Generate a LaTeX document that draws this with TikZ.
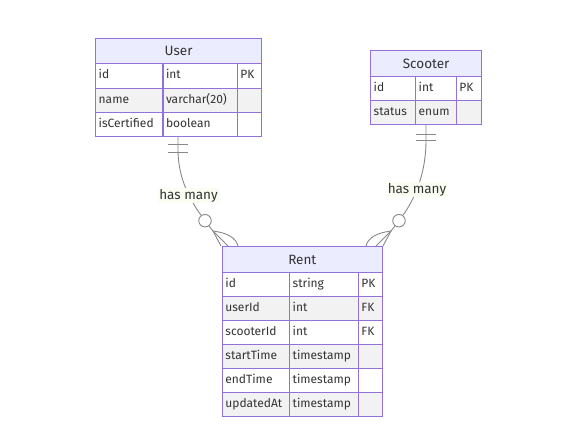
\documentclass[tikz,border=0pt]{standalone}
\usepackage{fontspec}
\setmainfont{Fira Sans}
\definecolor{erborder}{HTML}{9370DB}
\definecolor{erhead}{HTML}{ECECFF}
\definecolor{erodd}{HTML}{FFFFFF}
\definecolor{ereven}{HTML}{F2F2F2}
\definecolor{ertext}{HTML}{333333}
\definecolor{erline}{HTML}{888888}
\definecolor{erlbl}{HTML}{FAFDF2}
\tikzset{
  cellbox/.style={draw=erborder, line width=1.2pt, rectangle, inner sep=0pt, anchor=north west, text=ertext},
  headbox/.style={cellbox, fill=erhead, font=\fontsize{13.5}{15}\selectfont},
  celltext/.style={anchor=west, text=ertext, inner sep=0pt, font=\fontsize{12}{14}\selectfont},
  relline/.style={draw=erline, line width=0.9pt},
  lbl/.style={fill=erlbl, text=ertext, inner sep=1pt, font=\fontsize{13.5}{15}\selectfont},
  ringmark/.style={circle, draw=erline, line width=0.9pt, fill=white, minimum size=12.5pt, inner sep=0pt}
}
% \ercell{name}{x1}{y1}{x2}{y2}{fill}{text}
\newcommand\ercell[7]{%
  \node[cellbox, fill=#6, minimum width={(#4-#2)*1pt}, minimum height={(#5-#3)*1pt}] (#1) at (#2,#3) {};
  \node[celltext] (#1t) at ([xshift=3.5pt]#1.west) {\strut #7};}
\newcommand\erhead[6]{%
  \node[headbox, minimum width={(#4-#2)*1pt}, minimum height={(#5-#3)*1pt}] (#1) at (#2,#3) {#6};}
\begin{document}
\begin{tikzpicture}[x=1pt,y=-1pt]
\useasboundingbox (0,0) rectangle (586,435);
% ---------- User ----------
\erhead{uh}{95}{38}{261}{63}{User}
\ercell{ua1}{95}{63}{162.3}{87.7}{erodd}{id}
\ercell{ua2}{162.3}{63}{236.7}{87.7}{erodd}{int}
\ercell{ua3}{236.7}{63}{261}{87.7}{erodd}{PK}
\ercell{ub1}{95}{87.7}{162.3}{111.7}{ereven}{name}
\ercell{ub2}{162.3}{87.7}{236.7}{111.7}{ereven}{varchar(20)}
\ercell{ub3}{236.7}{87.7}{261}{111.7}{ereven}{}
\ercell{uc1}{95}{111.7}{162.3}{136}{erodd}{isCertified}
\ercell{uc2}{162.3}{111.7}{236.7}{136}{erodd}{boolean}
\ercell{uc3}{236.7}{111.7}{261}{136}{erodd}{}
% ---------- Scooter ----------
\erhead{sh}{370}{50}{481}{75.7}{Scooter}
\ercell{sa1}{370}{75.7}{415}{100}{erodd}{id}
\ercell{sa2}{415}{75.7}{455.7}{100}{erodd}{int}
\ercell{sa3}{455.7}{75.7}{481}{100}{erodd}{PK}
\ercell{sb1}{370}{100}{415}{124}{ereven}{status}
\ercell{sb2}{415}{100}{455.7}{124}{ereven}{enum}
\ercell{sb3}{455.7}{100}{481}{124}{ereven}{}
% ---------- Rent ----------
\erhead{rh}{221.7}{246}{381.7}{271.7}{Rent}
\ercell{ra1}{221.7}{271.7}{289}{296}{erodd}{id}
\ercell{ra2}{289}{271.7}{357.7}{296}{erodd}{string}
\ercell{ra3}{357.7}{271.7}{381.7}{296}{erodd}{PK}
\ercell{rb1}{221.7}{296}{289}{320}{ereven}{userId}
\ercell{rb2}{289}{296}{357.7}{320}{ereven}{int}
\ercell{rb3}{357.7}{296}{381.7}{320}{ereven}{FK}
\ercell{rc1}{221.7}{320}{289}{344}{erodd}{scooterId}
\ercell{rc2}{289}{320}{357.7}{344}{erodd}{int}
\ercell{rc3}{357.7}{320}{381.7}{344}{erodd}{FK}
\ercell{rd1}{221.7}{344}{289}{368}{ereven}{startTime}
\ercell{rd2}{289}{344}{357.7}{368}{ereven}{timestamp}
\ercell{rd3}{357.7}{344}{381.7}{368}{ereven}{}
\ercell{re1}{221.7}{368}{289}{392}{erodd}{endTime}
\ercell{re2}{289}{368}{357.7}{392}{erodd}{timestamp}
\ercell{re3}{357.7}{368}{381.7}{392}{erodd}{}
\ercell{rf1}{221.7}{392}{289}{416}{ereven}{updatedAt}
\ercell{rf2}{289}{392}{357.7}{416}{ereven}{timestamp}
\ercell{rf3}{357.7}{392}{381.7}{416}{ereven}{}
% ---------- User -> Rent ----------
\coordinate (ustart) at (178,136.6);
\coordinate (lfork) at (213,231);
\node[ringmark] (lring) at (205,220.7) {};
\draw[relline] (ustart) -- (178,150) .. controls (178,178) and (190,200) .. (lring);
\draw[relline] (168,144) -- (188,144);
\draw[relline] (168,152.5) -- (188,152.5);
\draw[relline] (lfork) -- (221,246);
\draw[relline] (lfork) -- (228,246);
\draw[relline] (lfork) .. controls (228,233) and (236,238) .. (238,246);
\draw[relline] (lring) -- (lfork);
\node[lbl] (l1) at (188.5,195.5) {has many};
% ---------- Scooter -> Rent ----------
\coordinate (sstart) at (426,124.6);
\coordinate (rfork) at (391,231);
\node[ringmark] (rring) at (399,220.7) {};
\draw[relline] (sstart) -- (426,140) .. controls (426,175) and (414,200) .. (rring);
\draw[relline] (416,134) -- (436,134);
\draw[relline] (416,140) -- (436,140);
\draw[relline] (rfork) -- (383,246);
\draw[relline] (rfork) -- (376,246);
\draw[relline] (rfork) .. controls (376,233) and (368,238) .. (366,246);
\draw[relline] (rring) -- (rfork);
\node[lbl] (l2) at (417,189.5) {has many};
\end{tikzpicture}
\end{document}
